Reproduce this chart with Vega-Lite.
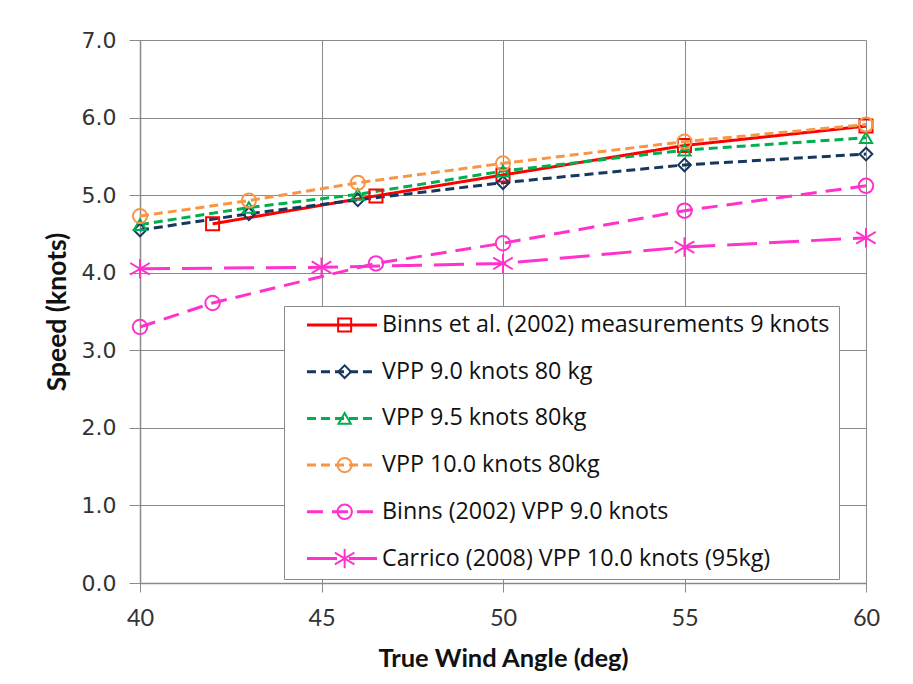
{
  "$schema": "https://vega.github.io/schema/vega-lite/v6.json",
  "autosize": {"type": "none"},
  "width": 726,
  "height": 543,
  "padding": {"left": 140, "top": 40, "right": 47, "bottom": 101},
  "background": "white",
  "config": {
    "view": {"stroke": null},
    "axis": {
      "gridColor": "#8a8a8a", "gridWidth": 1, "domainColor": "#8a8a8a", "domainWidth": 1.5,
      "tickColor": "#8a8a8a", "labelColor": "#333333", "titleColor": "#111111",
      "titleFont": "Lato", "titleFontWeight": "bold"
    }
  },
  "data": {"values": [
    {"series": "Binns et al. (2002) measurements 9 knots", "angle": 42, "speed": 4.63},
    {"series": "Binns et al. (2002) measurements 9 knots", "angle": 46.5, "speed": 4.99},
    {"series": "Binns et al. (2002) measurements 9 knots", "angle": 50, "speed": 5.26},
    {"series": "Binns et al. (2002) measurements 9 knots", "angle": 55, "speed": 5.64},
    {"series": "Binns et al. (2002) measurements 9 knots", "angle": 60, "speed": 5.89},
    {"series": "VPP 9.0 knots 80 kg", "angle": 40, "speed": 4.55},
    {"series": "VPP 9.0 knots 80 kg", "angle": 43, "speed": 4.76},
    {"series": "VPP 9.0 knots 80 kg", "angle": 46, "speed": 4.94},
    {"series": "VPP 9.0 knots 80 kg", "angle": 50, "speed": 5.16},
    {"series": "VPP 9.0 knots 80 kg", "angle": 55, "speed": 5.39},
    {"series": "VPP 9.0 knots 80 kg", "angle": 60, "speed": 5.53},
    {"series": "VPP 9.5 knots 80kg", "angle": 40, "speed": 4.62},
    {"series": "VPP 9.5 knots 80kg", "angle": 43, "speed": 4.84},
    {"series": "VPP 9.5 knots 80kg", "angle": 46, "speed": 5.01},
    {"series": "VPP 9.5 knots 80kg", "angle": 50, "speed": 5.31},
    {"series": "VPP 9.5 knots 80kg", "angle": 55, "speed": 5.58},
    {"series": "VPP 9.5 knots 80kg", "angle": 60, "speed": 5.74},
    {"series": "VPP 10.0 knots 80kg", "angle": 40, "speed": 4.73},
    {"series": "VPP 10.0 knots 80kg", "angle": 43, "speed": 4.93},
    {"series": "VPP 10.0 knots 80kg", "angle": 46, "speed": 5.16},
    {"series": "VPP 10.0 knots 80kg", "angle": 50, "speed": 5.41},
    {"series": "VPP 10.0 knots 80kg", "angle": 55, "speed": 5.69},
    {"series": "VPP 10.0 knots 80kg", "angle": 60, "speed": 5.91},
    {"series": "Binns (2002) VPP 9.0 knots", "angle": 40, "speed": 3.30},
    {"series": "Binns (2002) VPP 9.0 knots", "angle": 42, "speed": 3.61},
    {"series": "Binns (2002) VPP 9.0 knots", "angle": 46.5, "speed": 4.12},
    {"series": "Binns (2002) VPP 9.0 knots", "angle": 50, "speed": 4.38},
    {"series": "Binns (2002) VPP 9.0 knots", "angle": 55, "speed": 4.80},
    {"series": "Binns (2002) VPP 9.0 knots", "angle": 60, "speed": 5.12},
    {"series": "Carrico (2008) VPP 10.0 knots (95kg)", "angle": 40, "speed": 4.05},
    {"series": "Carrico (2008) VPP 10.0 knots (95kg)", "angle": 45, "speed": 4.07},
    {"series": "Carrico (2008) VPP 10.0 knots (95kg)", "angle": 50, "speed": 4.12},
    {"series": "Carrico (2008) VPP 10.0 knots (95kg)", "angle": 55, "speed": 4.33},
    {"series": "Carrico (2008) VPP 10.0 knots (95kg)", "angle": 60, "speed": 4.45}
  ]},
  "encoding": {
    "x": {"field": "angle", "type": "quantitative",
      "scale": {"domain": [40, 60], "nice": false, "zero": false},
      "axis": {"values": [40, 45, 50, 55, 60], "title": "True Wind Angle (deg)", "titleFontSize": 25.5, "labelFont": "Lato", "labelFontSize": 23.5, "tickSize": 9, "labelPadding": 14, "titlePadding": 17, "labelFlush": false}},
    "y": {"field": "speed", "type": "quantitative",
      "scale": {"domain": [0, 7], "nice": false, "zero": true},
      "axis": {"values": [0, 1, 2, 3, 4, 5, 6, 7], "format": ".1f", "title": "Speed (knots)", "titleFontSize": 26.5, "labelFont": "DejaVu Sans", "labelFontSize": 22, "tickSize": 11, "labelPadding": 13, "titlePadding": 10}}
  },
  "layer": [
    {
      "mark": {"type": "line", "strokeWidth": 3},
      "encoding": {
        "color": {"field": "series", "type": "nominal",
          "scale": {"domain": ["Binns et al. (2002) measurements 9 knots", "VPP 9.0 knots 80 kg", "VPP 9.5 knots 80kg", "VPP 10.0 knots 80kg", "Binns (2002) VPP 9.0 knots", "Carrico (2008) VPP 10.0 knots (95kg)"],
                    "range": ["#ff0000", "#17375e", "#00b050", "#f79646", "#ff33cc", "#ff33cc"]},
          "legend": {"orient": "none", "legendX": 144, "legendY": 266, "title": null, "symbolType": "stroke", "symbolSize": 4900, "symbolStrokeWidth": 3, "symbolOffset": 12.5, "clipHeight": 20, "rowPadding": 22.7, "padding": 9, "labelFont": "Open Sans", "labelFontSize": 23.3, "labelColor": "#111111", "labelOffset": 3.5, "labelLimit": 700, "strokeColor": "#8a8a8a", "fillColor": "white"}},
        "strokeDash": {"field": "series", "type": "nominal",
          "scale": {"domain": ["Binns et al. (2002) measurements 9 knots", "VPP 9.0 knots 80 kg", "VPP 9.5 knots 80kg", "VPP 10.0 knots 80kg", "Binns (2002) VPP 9.0 knots", "Carrico (2008) VPP 10.0 knots (95kg)"],
                    "range": [[1, 0], [9, 5], [9, 5], [9, 5], [16, 9], [30, 12]]},
          "legend": {"orient": "none", "legendX": 144, "legendY": 266, "title": null, "symbolType": "stroke", "symbolSize": 4900, "symbolStrokeWidth": 3, "symbolOffset": 12.5, "clipHeight": 20, "rowPadding": 22.7, "padding": 9, "labelFont": "Open Sans", "labelFontSize": 23.3, "labelColor": "#111111", "labelOffset": 3.5, "labelLimit": 700, "strokeColor": "#8a8a8a", "fillColor": "white"}}
      }
    },
    {
      "mark": {"type": "point", "filled": false, "strokeWidth": 2, "opacity": 1},
      "encoding": {
        "shape": {"field": "series", "type": "nominal", "sort": null,
          "scale": {"range": ["square", "diamond", "triangle-up", "circle", "circle", "M0,-1V1M-1,-0.6L1,0.6M-1,0.6L1,-0.6"]},
          "legend": {"orient": "none", "legendX": 184, "legendY": 266, "title": null, "clipHeight": 20, "rowPadding": 22.7, "padding": 9, "symbolStrokeWidth": 2, "labelExpr": "''", "labelFontSize": 23.3}},
        "stroke": {"field": "series", "type": "nominal", "sort": null,
          "scale": {"range": ["#ff0000", "#17375e", "#00b050", "#f79646", "#ff33cc", "#ff33cc"]},
          "legend": {"orient": "none", "legendX": 184, "legendY": 266, "title": null, "clipHeight": 20, "rowPadding": 22.7, "padding": 9, "symbolStrokeWidth": 2, "labelExpr": "''", "labelFontSize": 23.3}},
        "size": {"field": "series", "type": "nominal", "sort": null,
          "scale": {"type": "ordinal", "range": [170, 160, 150, 200, 210, 380]},
          "legend": {"orient": "none", "legendX": 184, "legendY": 266, "title": null, "clipHeight": 20, "rowPadding": 22.7, "padding": 9, "symbolStrokeWidth": 2, "labelExpr": "''", "labelFontSize": 23.3}}
      }
    }
  ]
}
